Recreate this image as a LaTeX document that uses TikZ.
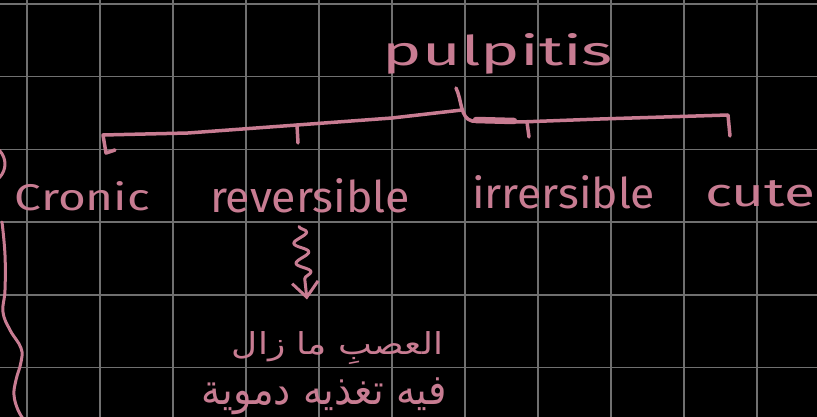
\documentclass[tikz,border=0pt]{standalone}
\usepackage{fontspec}
\setmainfont{Fira Sans}
\newfontfamily\arabicfont[Script=Arabic]{DejaVu Sans}
\TeXXeTstate=1
\usetikzlibrary{decorations.pathmorphing,arrows.meta}
\definecolor{inkpink}{RGB}{200,124,146}
\definecolor{gridgray}{RGB}{112,112,112}
\begin{document}
\begin{tikzpicture}[x=1pt,y=-1pt,
  ink/.style={draw=inkpink, line width=3.5pt, line cap=round, line join=round},
  lbl/.style={inner sep=0pt, outer sep=0pt, text=inkpink},
  gridline/.style={draw=gridgray, line width=1.6pt},
  squig/.style={ink, line width=3pt, decorate, decoration={snake, amplitude=7pt, segment length=20pt, post length=14pt},
    -{Straight Barb[length=15pt,width=26pt]}}]
\fill[black] (0,0) rectangle (817,417);
\useasboundingbox (0,0) rectangle (817,417);
\begin{scope}
\clip (0,0) rectangle (817,417);
\foreach \i in {0,...,10} \draw[gridline] ({27+73*\i},0) -- ({27+73*\i},417);
\foreach \j in {0,...,5} \draw[gridline] (0,{4+72.7*\j}) -- (817,{4+72.7*\j});

% labels
\node[lbl, anchor=base] (pulp) at (498,66) {\resizebox{230pt}{32pt}{pulpitis}};
\node[lbl, anchor=base west] (cron) at (15,211) {\resizebox{135pt}{29pt}{Cronic}};
\node[lbl, anchor=base west] (rev) at (210,212) {\resizebox{200pt}{34pt}{reversible}};
\node[lbl, anchor=base west] (irr) at (472,209) {\resizebox{183pt}{33pt}{irrersible}};
\node[lbl, anchor=base west] (cute) at (705,206) {\resizebox{110pt}{26pt}{cute}};
\node[lbl] (ar1) at (337.5,348) {\resizebox*{211pt}{33pt}{\arabicfont\beginR العصبِ ما زال\endR}};
\node[lbl] (ar2) at (324.5,396.5) {\resizebox*{245pt}{37pt}{\arabicfont\beginR فيه تغذيه دموية\endR}};

% bracket under pulpitis
\coordinate (stemtop) at (456,88);
\coordinate (stemfoot) at (472,121);
\draw[ink] (115,150) -- (106,153) -- (103,135) -- (188,133) -- (297,125) -- (392,118) -- (462,110);
\draw[ink] (297,125) -- (298,143);
\draw[ink] (stemtop) .. controls (462,100) and (460,118) .. (stemfoot);
\draw[ink, line width=6.5pt] (476,120) -- (514,121);
\draw[ink] (stemfoot) -- (520,122) -- (600,119) -- (728,115) -- (730,136);
\draw[ink] (527,122) -- (529,137);

% left brace fragment
\draw[ink, line width=3pt] (-1,150) .. controls (7,158) and (7,170) .. (-1,178);
\draw[ink, line width=3pt] plot[smooth, tension=0.7] coordinates {(2,222) (5,255) (5,290) (3,312) (10,330) (21,348) (21,362) (16,380) (14,395) (18,410) (24,420)};

% wavy arrow
\draw[squig] ([xshift=-11pt,yshift=-14pt]rev.south) -- ([xshift=-30.5pt,yshift=32pt]ar1.north);
\end{scope}
\end{tikzpicture}
\end{document}
